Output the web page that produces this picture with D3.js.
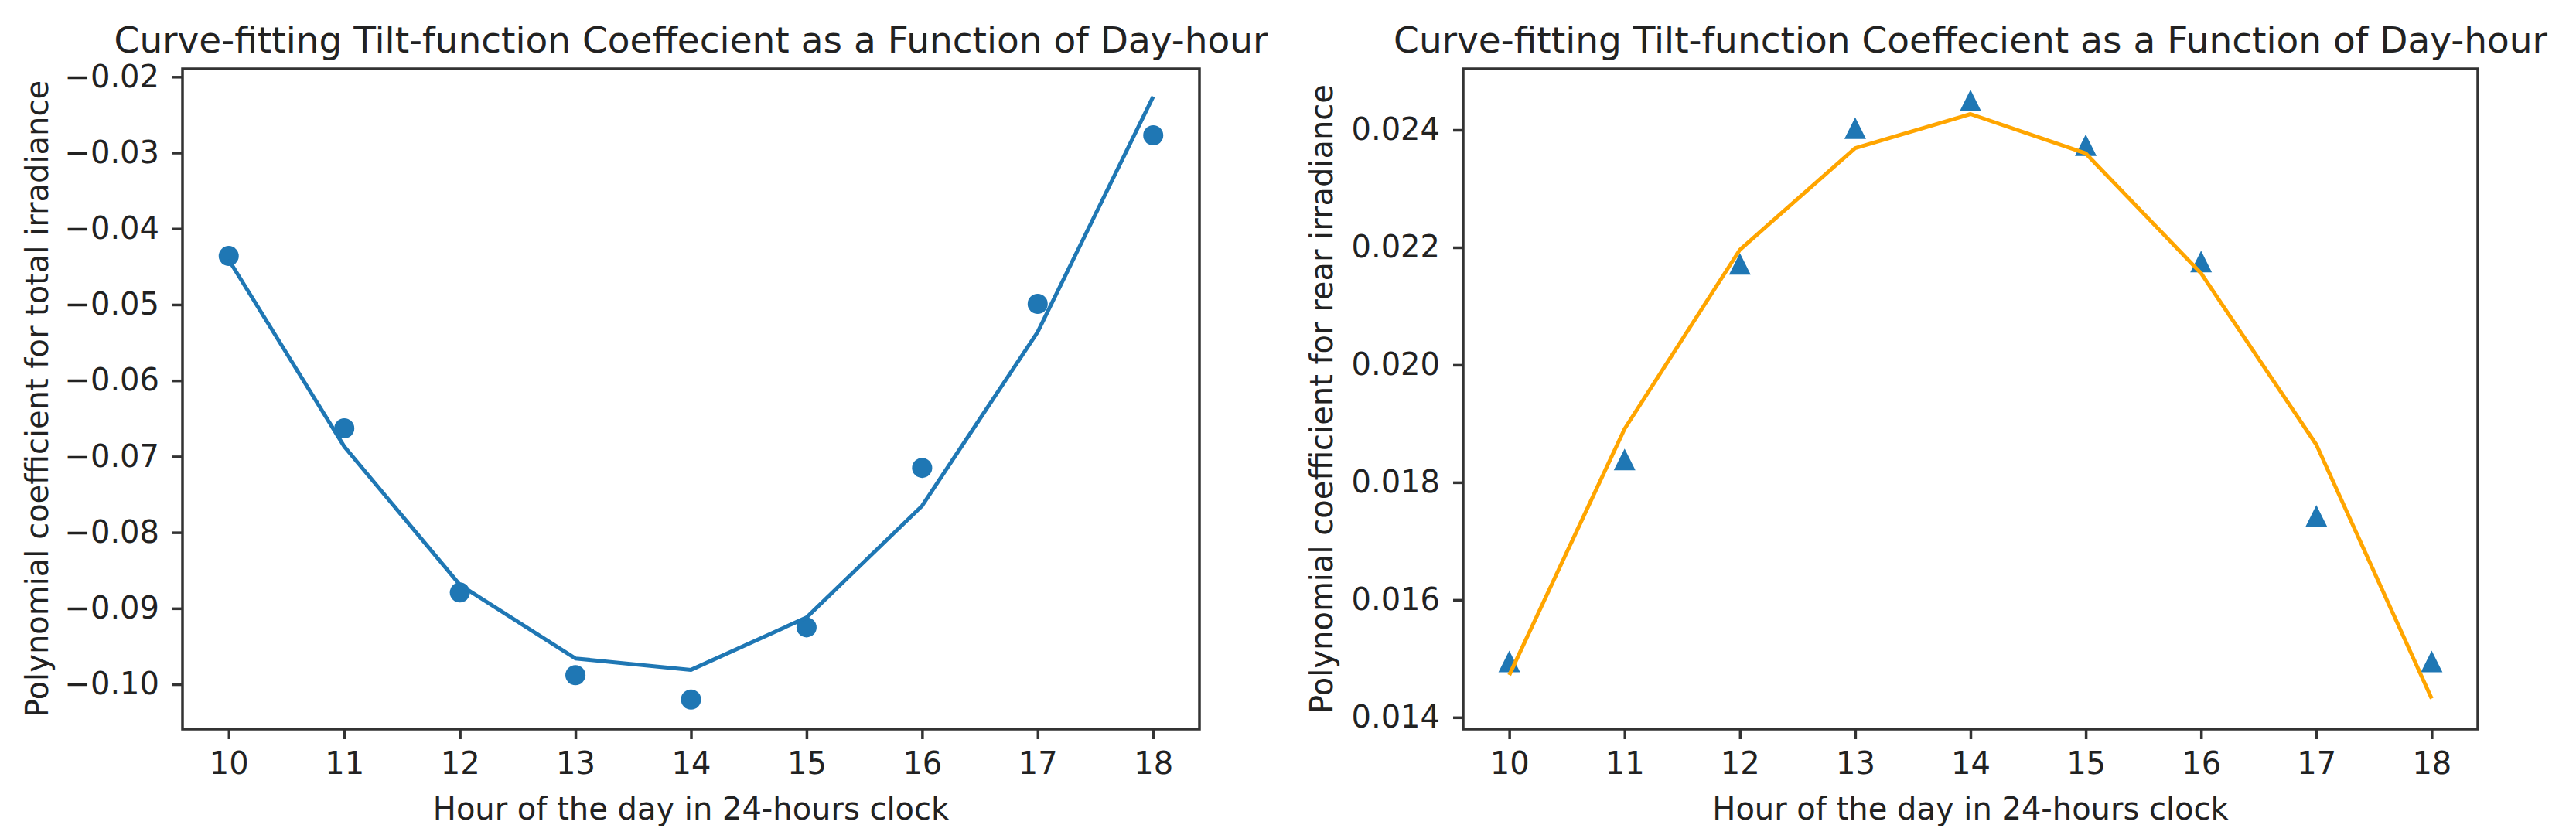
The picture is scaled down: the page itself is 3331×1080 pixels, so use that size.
<!DOCTYPE html>
<html>
<head>
<meta charset="utf-8">
<script src="https://cdn.jsdelivr.net/npm/d3@7"></script>
<style>
  body { margin: 0; background: #fff; }
  text { font-family: "DejaVu Sans", sans-serif; fill: #222; }
  .axis path, .axis line { stroke: #333; stroke-width: 3.5; }
</style>
</head>
<body>
<div id="chart"></div>
<script>
var hours = [10, 11, 12, 13, 14, 15, 16, 17, 18];

// left panel: total irradiance coefficient
var totalPoints = [-0.0436, -0.0663, -0.0879, -0.0988, -0.1020, -0.0925, -0.0715, -0.0499, -0.0277];
var totalFit = [-0.0441, -0.0687, -0.0869, -0.0966, -0.0981, -0.0912, -0.0765, -0.0536, -0.0226];
var totalTicks = [-0.02, -0.03, -0.04, -0.05, -0.06, -0.07, -0.08, -0.09, -0.10];

// right panel: rear irradiance coefficient
var rearPoints = [0.01495, 0.01839, 0.02172, 0.02403, 0.02450, 0.02374, 0.02176, 0.01743, 0.01495];
var rearFit = [0.01472, 0.01891, 0.02196, 0.02369, 0.02427, 0.02360, 0.02156, 0.01864, 0.01432];
var rearTicks = [0.014, 0.016, 0.018, 0.020, 0.022, 0.024];

var titleText = "Curve-fitting Tilt-function Coeffecient as a Function of Day-hour";
var xLabelText = "Hour of the day in 24-hours clock";

(function() {
  var totalWidth = 3331, totalHeight = 1080;

  var svg = d3.select("#chart")
    .append("svg")
    .attr("width", totalWidth)
    .attr("height", totalHeight)
    .style("background-color", "#fff");

  var panels = [
    { left: 236, right: 1551, points: totalPoints, fit: totalFit, ticks: totalTicks,
      domain: [-0.1059, -0.01895], fmt: d3.format(".2f"), lineColor: "#1f77b4",
      marker: "circle", yLabel: "Polynomial coefficient for total irradiance", labelX: 62 },
    { left: 1892, right: 3204, points: rearPoints, fit: rearFit, ticks: rearTicks,
      domain: [0.0138, 0.02504], fmt: d3.format(".3f"), lineColor: "#ffa500",
      marker: "triangle", yLabel: "Polynomial coefficient for rear irradiance", labelX: 1723 }
  ];

  var top = 89, bottom = 943;

  panels.forEach(function(p) {
    var width = p.right - p.left,
        height = bottom - top;

    var g = svg.append("g")
      .attr("transform", "translate(" + p.left + "," + top + ")");

    var xPositionScale = d3.scaleLinear()
      .domain([9.6, 18.4])
      .range([0, width]);

    var yPositionScale = d3.scaleLinear()
      .domain(p.domain)
      .range([height, 0]);

    // frame (all four spines)
    g.append("rect")
      .attr("x", 0)
      .attr("y", 0)
      .attr("width", width)
      .attr("height", height)
      .attr("fill", "none")
      .attr("stroke", "#333")
      .attr("stroke-width", 3.5);

    var xAxis = d3.axisBottom(xPositionScale)
      .tickValues(hours)
      .tickFormat(d3.format("d"))
      .tickSize(13)
      .tickPadding(17);
    g.append("g")
      .attr("class", "axis x-axis")
      .attr("transform", "translate(0," + height + ")")
      .call(xAxis)
      .call(function(a) { a.select(".domain").remove(); })
      .selectAll("text")
      .style("font-size", "40px")
      .attr("fill", "#222");

    var yAxis = d3.axisLeft(yPositionScale)
      .tickValues(p.ticks)
      .tickFormat(p.fmt)
      .tickSize(13)
      .tickPadding(17);
    g.append("g")
      .attr("class", "axis y-axis")
      .call(yAxis)
      .call(function(a) { a.select(".domain").remove(); })
      .selectAll("text")
      .style("font-size", "40px")
      .attr("fill", "#222");

    var data = hours.map(function(h, i) {
      return { hour: h, point: p.points[i], fit: p.fit[i] };
    });

    // scatter markers
    if (p.marker === "circle") {
      g.selectAll(".pt")
        .data(data)
        .enter()
        .append("circle")
        .attr("class", "pt")
        .attr("cx", function(d) { return xPositionScale(d.hour); })
        .attr("cy", function(d) { return yPositionScale(d.point); })
        .attr("r", 13)
        .attr("fill", "#1f77b4");
    } else {
      var s = 14;
      g.selectAll(".pt")
        .data(data)
        .enter()
        .append("path")
        .attr("class", "pt")
        .attr("d", "M0," + (-s) + "L" + (-s) + "," + s + "L" + s + "," + s + "Z")
        .attr("transform", function(d) {
          return "translate(" + xPositionScale(d.hour) + "," + yPositionScale(d.point) + ")";
        })
        .attr("fill", "#1f77b4");
    }//END of marker type

    // fitted curve
    var line = d3.line()
      .x(function(d) { return xPositionScale(d.hour); })
      .y(function(d) { return yPositionScale(d.fit); });

    g.append("path")
      .datum(data)
      .attr("d", line)
      .attr("stroke", p.lineColor)
      .attr("stroke-width", 5)
      .attr("fill", "none")
      .attr("stroke-linejoin", "round");

    // title
    svg.append("text")
      .text(titleText)
      .attr("x", p.left + width / 2)
      .attr("y", 68)
      .attr("text-anchor", "middle")
      .style("font-size", "47px");

    // x label
    svg.append("text")
      .text(xLabelText)
      .attr("x", p.left + width / 2)
      .attr("y", 1060)
      .attr("text-anchor", "middle")
      .style("font-size", "40px");

    // y label
    svg.append("text")
      .text(p.yLabel)
      .attr("transform", "translate(" + p.labelX + "," + (top + height / 2) + ") rotate(-90)")
      .attr("text-anchor", "middle")
      .style("font-size", "40px");
  });//END of panels.forEach
})();
</script>
</body>
</html>
